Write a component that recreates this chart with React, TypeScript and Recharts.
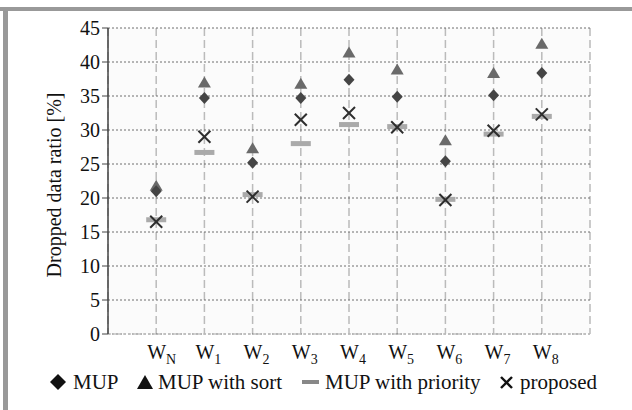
import { ScatterChart, Scatter, XAxis, YAxis, CartesianGrid } from "recharts";

const subs = ["N", "1", "2", "3", "4", "5", "6", "7", "8"];
const mup = [21.0, 34.7, 25.2, 34.7, 37.4, 34.9, 25.4, 35.1, 38.4];
const mupSort = [21.8, 37.0, 27.3, 36.8, 41.4, 38.9, 28.5, 38.4, 42.7];
const mupPriority = [16.8, 26.7, 20.5, 28.0, 30.8, 30.5, 19.8, 29.4, 32.0];
const proposed = [16.5, 29.0, 20.2, 31.5, 32.5, 30.4, 19.7, 29.9, 32.3];
const yTicks = [0, 5, 10, 15, 20, 25, 30, 35, 40, 45];

const serif = "Liberation Serif, Times New Roman, Tinos, Nimbus Roman, Noto Serif, DejaVu Serif, serif";

const pts = (vals: number[]) => vals.map((v, i) => ({ x: i + 1, y: v }));
const xTicks = [...subs.map((_, i) => i + 1), subs.length + 1];

const Diamond = ({ cx, cy }: any) => (
  <polygon points={`${cx},${cy - 6} ${cx + 5.5},${cy} ${cx},${cy + 6} ${cx - 5.5},${cy}`} fill="#454545" />
);
const Triangle = ({ cx, cy }: any) => (
  <polygon points={`${cx},${cy - 6} ${cx + 6.5},${cy + 5} ${cx - 6.5},${cy + 5}`} fill="#6a6a6a" />
);
const Dash = ({ cx, cy }: any) => <rect x={cx - 10} y={cy - 2.5} width={20} height={5} fill="#aaaaaa" />;
const Cross = ({ cx, cy }: any) => (
  <g stroke="#2e2e2e" strokeWidth={2}>
    <line x1={cx - 6} y1={cy - 6} x2={cx + 6} y2={cy + 6} />
    <line x1={cx - 6} y1={cy + 6} x2={cx + 6} y2={cy - 6} />
  </g>
);

const XTick = ({ x, y, payload }: any) => {
  const s = subs[payload.value - 1];
  if (s === undefined) return null;
  return (
    <text x={x - 9} y={y + 25} style={{ fontFamily: serif }} fontSize={20} fill="#111">
      W<tspan fontSize={14} dy={5}>{s}</tspan>
    </text>
  );
};

const legendItems = [
  { icon: 50, text: 73, w: 16, label: "MUP", shape: <polygon points="8,0 16,8 8,16 0,8" fill="#111" /> },
  { icon: 137, text: 158, w: 16, label: "MUP with sort", shape: <polygon points="8,1 16,15 0,15" fill="#111" /> },
  { icon: 302, text: 325, w: 17, label: "MUP with priority", shape: <rect x={0} y={6} width={17} height={4} fill="#888" /> },
  { icon: 500, text: 520, w: 13, label: "proposed", shape: <g stroke="#111" strokeWidth={2.4}><line x1={1} y1={3} x2={12} y2={14} /><line x1={1} y1={14} x2={12} y2={3} /></g> },
];

export default function App() {
  return (
    <div style={{ position: "absolute", left: 0, top: 0, width: 632, height: 410, background: "#fff", fontFamily: serif }}>
      <div style={{ position: "absolute", left: 0, top: 7, width: 632, height: 4, background: "#999" }} />
      <div style={{ position: "absolute", left: 3, top: 7, width: 5, height: 403, background: "#999" }} />
      <div style={{ position: "absolute", left: 0, top: 0 }}>
        <ScatterChart width={632} height={410} margin={{ top: 28, right: 42, bottom: 46, left: 0 }} style={{ fontFamily: serif }}>
          <CartesianGrid horizontal={false} stroke="#bbbbbb" strokeWidth={1.5} strokeDasharray="8 4" fill="#fbfbfb" />
          <CartesianGrid vertical={false} stroke="#6f6f6f" strokeDasharray="2 2" />
          <XAxis
            type="number"
            dataKey="x"
            domain={[0, subs.length + 1]}
            ticks={xTicks}
            interval={0}
            tickLine={false}
            tickSize={0}
            tickMargin={0}
            height={30}
            axisLine={{ stroke: "#c4c4c4", strokeDasharray: "3 2", strokeWidth: 1.5 }}
            tick={<XTick />}
          />
          <YAxis
            type="number"
            dataKey="y"
            domain={[0, 45]}
            ticks={yTicks}
            interval={0}
            width={108}
            tickSize={6}
            tickMargin={2}
            axisLine={{ stroke: "#444", strokeWidth: 1.5 }}
            tickLine={{ stroke: "#444" }}
            tick={{ fill: "#111", fontSize: 20, style: { fontFamily: serif } }}
            label={{ value: "Dropped data ratio [%]", angle: -90, position: "center", dy: 4, fill: "#111", fontSize: 20, style: { fontFamily: serif } }}
          />
          <Scatter name="MUP with priority" data={pts(mupPriority)} shape={<Dash />} isAnimationActive={false} />
          <Scatter name="MUP with sort" data={pts(mupSort)} shape={<Triangle />} isAnimationActive={false} />
          <Scatter name="MUP" data={pts(mup)} shape={<Diamond />} isAnimationActive={false} />
          <Scatter name="proposed" data={pts(proposed)} shape={<Cross />} isAnimationActive={false} />
        </ScatterChart>
      </div>
      {legendItems.map((it) => (
        <div key={it.label}>
          <svg width={it.w} height={16} style={{ position: "absolute", left: it.icon, top: 374 }}>
            {it.shape}
          </svg>
          <div style={{ position: "absolute", left: it.text, top: 369, fontSize: 21, lineHeight: "26px", color: "#111", whiteSpace: "nowrap" }}>
            {it.label}
          </div>
        </div>
      ))}
    </div>
  );
}
